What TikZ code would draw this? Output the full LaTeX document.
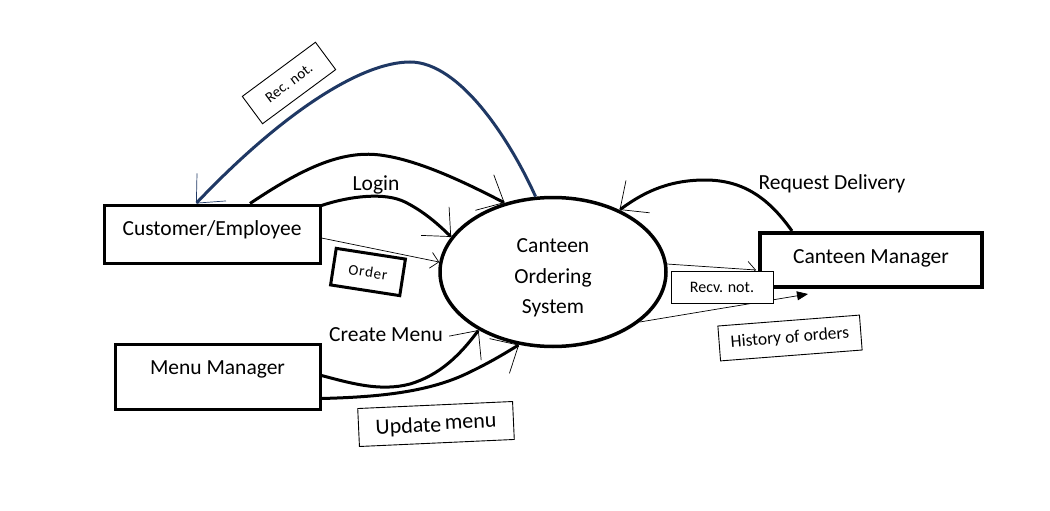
\documentclass[tikz,border=0pt]{standalone}
\usepackage{fontspec}
\setmainfont{Carlito}
\usetikzlibrary{shapes.geometric,arrows.meta,calc}
\definecolor{navyline}{RGB}{31,56,100}
\begin{document}
\begin{tikzpicture}[x=1pt,y=-1pt,
  entbox/.style={draw,line width=3pt,inner sep=0pt,font=\fontsize{21.5}{25}\selectfont},
  labelbox/.style={draw,line width=0.9pt,inner sep=0pt,fill=white},
  flowlabel/.style={inner sep=0pt,font=\fontsize{21.5}{25}\selectfont},
  thickflow/.style={line width=3pt,-{Straight Barb[length=22pt,width=40pt,line width=0.7pt]}},
  thinflow/.style={line width=0.7pt,-{Straight Barb[length=8pt,width=16pt,line width=0.7pt]}},
]
\useasboundingbox (0,0) rectangle (1050,511);

% entities and process
\node[entbox,minimum width=216pt,minimum height=58pt] (cust) at (212,234) {\raisebox{4pt}[\height][\depth]{Customer/Employee}};
\node[entbox,minimum width=205pt,minimum height=65pt] (menu) at (217.5,376.5) {\raisebox{7pt}[\height][\depth]{Menu Manager}};
\node[entbox,line width=4pt,minimum width=222pt,minimum height=54pt] (mgr) at (871,260) {\raisebox{2pt}[\height][\depth]{Canteen Manager}};
\node[draw,ellipse,line width=3.5pt,minimum width=226pt,minimum height=149pt,inner sep=0pt] (sys) at (553,272) {};
\node[align=center,inner sep=0pt,font=\fontsize{21.5}{30.5}\selectfont] (systext) at ($(sys.center)+(0,6)$) {Canteen\\Ordering\\System};

% label boxes
\node[labelbox,minimum width=91pt,minimum height=34pt,rotate=36.5,font=\fontsize{15}{17}\selectfont] (recnot) at (289,83) {Rec. not.};
\node[labelbox,line width=3pt,minimum width=70pt,minimum height=37pt,rotate=-8.8,font=\fontsize{15}{17}\selectfont] (order) at (368,272) {O\kern0.8pt r\kern0.8pt d\kern0.8pt e\kern0.8pt r};
\node[labelbox,minimum width=142pt,minimum height=35pt,rotate=4.4,font=\fontsize{17.5}{20}\selectfont] (hist) at (790,338) {History of orders};
\node[labelbox,minimum width=155pt,minimum height=38pt,rotate=2.6,font=\fontsize{22}{25}\selectfont] (upd) at (436,424) {\raisebox{-2pt}[\height][\depth]{Update}\,menu};

% flow labels
\node[flowlabel] (login) at (376,185) {Login};
\node[flowlabel] (create) at (386,335) {Create Menu};
\node[flowlabel] (reqdel) at (832,184) {Request Delivery};

% connectors
\draw[thickflow,draw=navyline] (sys.103.7) .. controls (510,140) and (460,62) .. (410,62)
      .. controls (360,62) and (280,115) .. ($(cust.north)+(-16,0)$);
\draw[thickflow] ($(cust.north)+(38,0)$) .. controls (300,170) and (340,150) .. (380,155)
      .. controls (420,160) and (470,185) .. (sys.125.6);
\draw[thickflow] ($(cust.north east)+(0,2)$) .. controls (350,196) and (385,192) .. (405,202)
      .. controls (425,212) and (440,226) .. (sys.161.4);
\draw[thinflow] ($(cust.east)+(0,4)$) -- (sys.175);
\draw[thickflow] ($(mgr.north)+(-79,0)$) .. controls (770,200) and (745,180) .. (705,180)
      .. controls (665,180) and (640,195) .. (sys.43.6);
\draw[thinflow] (sys.4.5) -- ($(mgr.west)+(-2,10)$);
\draw[line width=0.7pt,-{Triangle[length=11pt,width=9pt]}] (sys.-30.4) -- ($(mgr.south west)+(50,5)$);
\draw[thickflow] ($(menu.east)+(0,-1)$) .. controls (350,383) and (380,392) .. (410,384)
      .. controls (440,375) and (460,355) .. (sys.218);
\draw[thickflow] ($(menu.east)+(0,22)$) .. controls (380,397) and (430,392) .. (470,372)
      .. controls (495,360) and (510,350) .. (sys.245.8);

% label box drawn over the flows
\node[labelbox,minimum width=102pt,minimum height=32pt,font=\fontsize{16}{18}\selectfont] (recv) at (722,287) {Recv. not.};
\end{tikzpicture}
\end{document}
